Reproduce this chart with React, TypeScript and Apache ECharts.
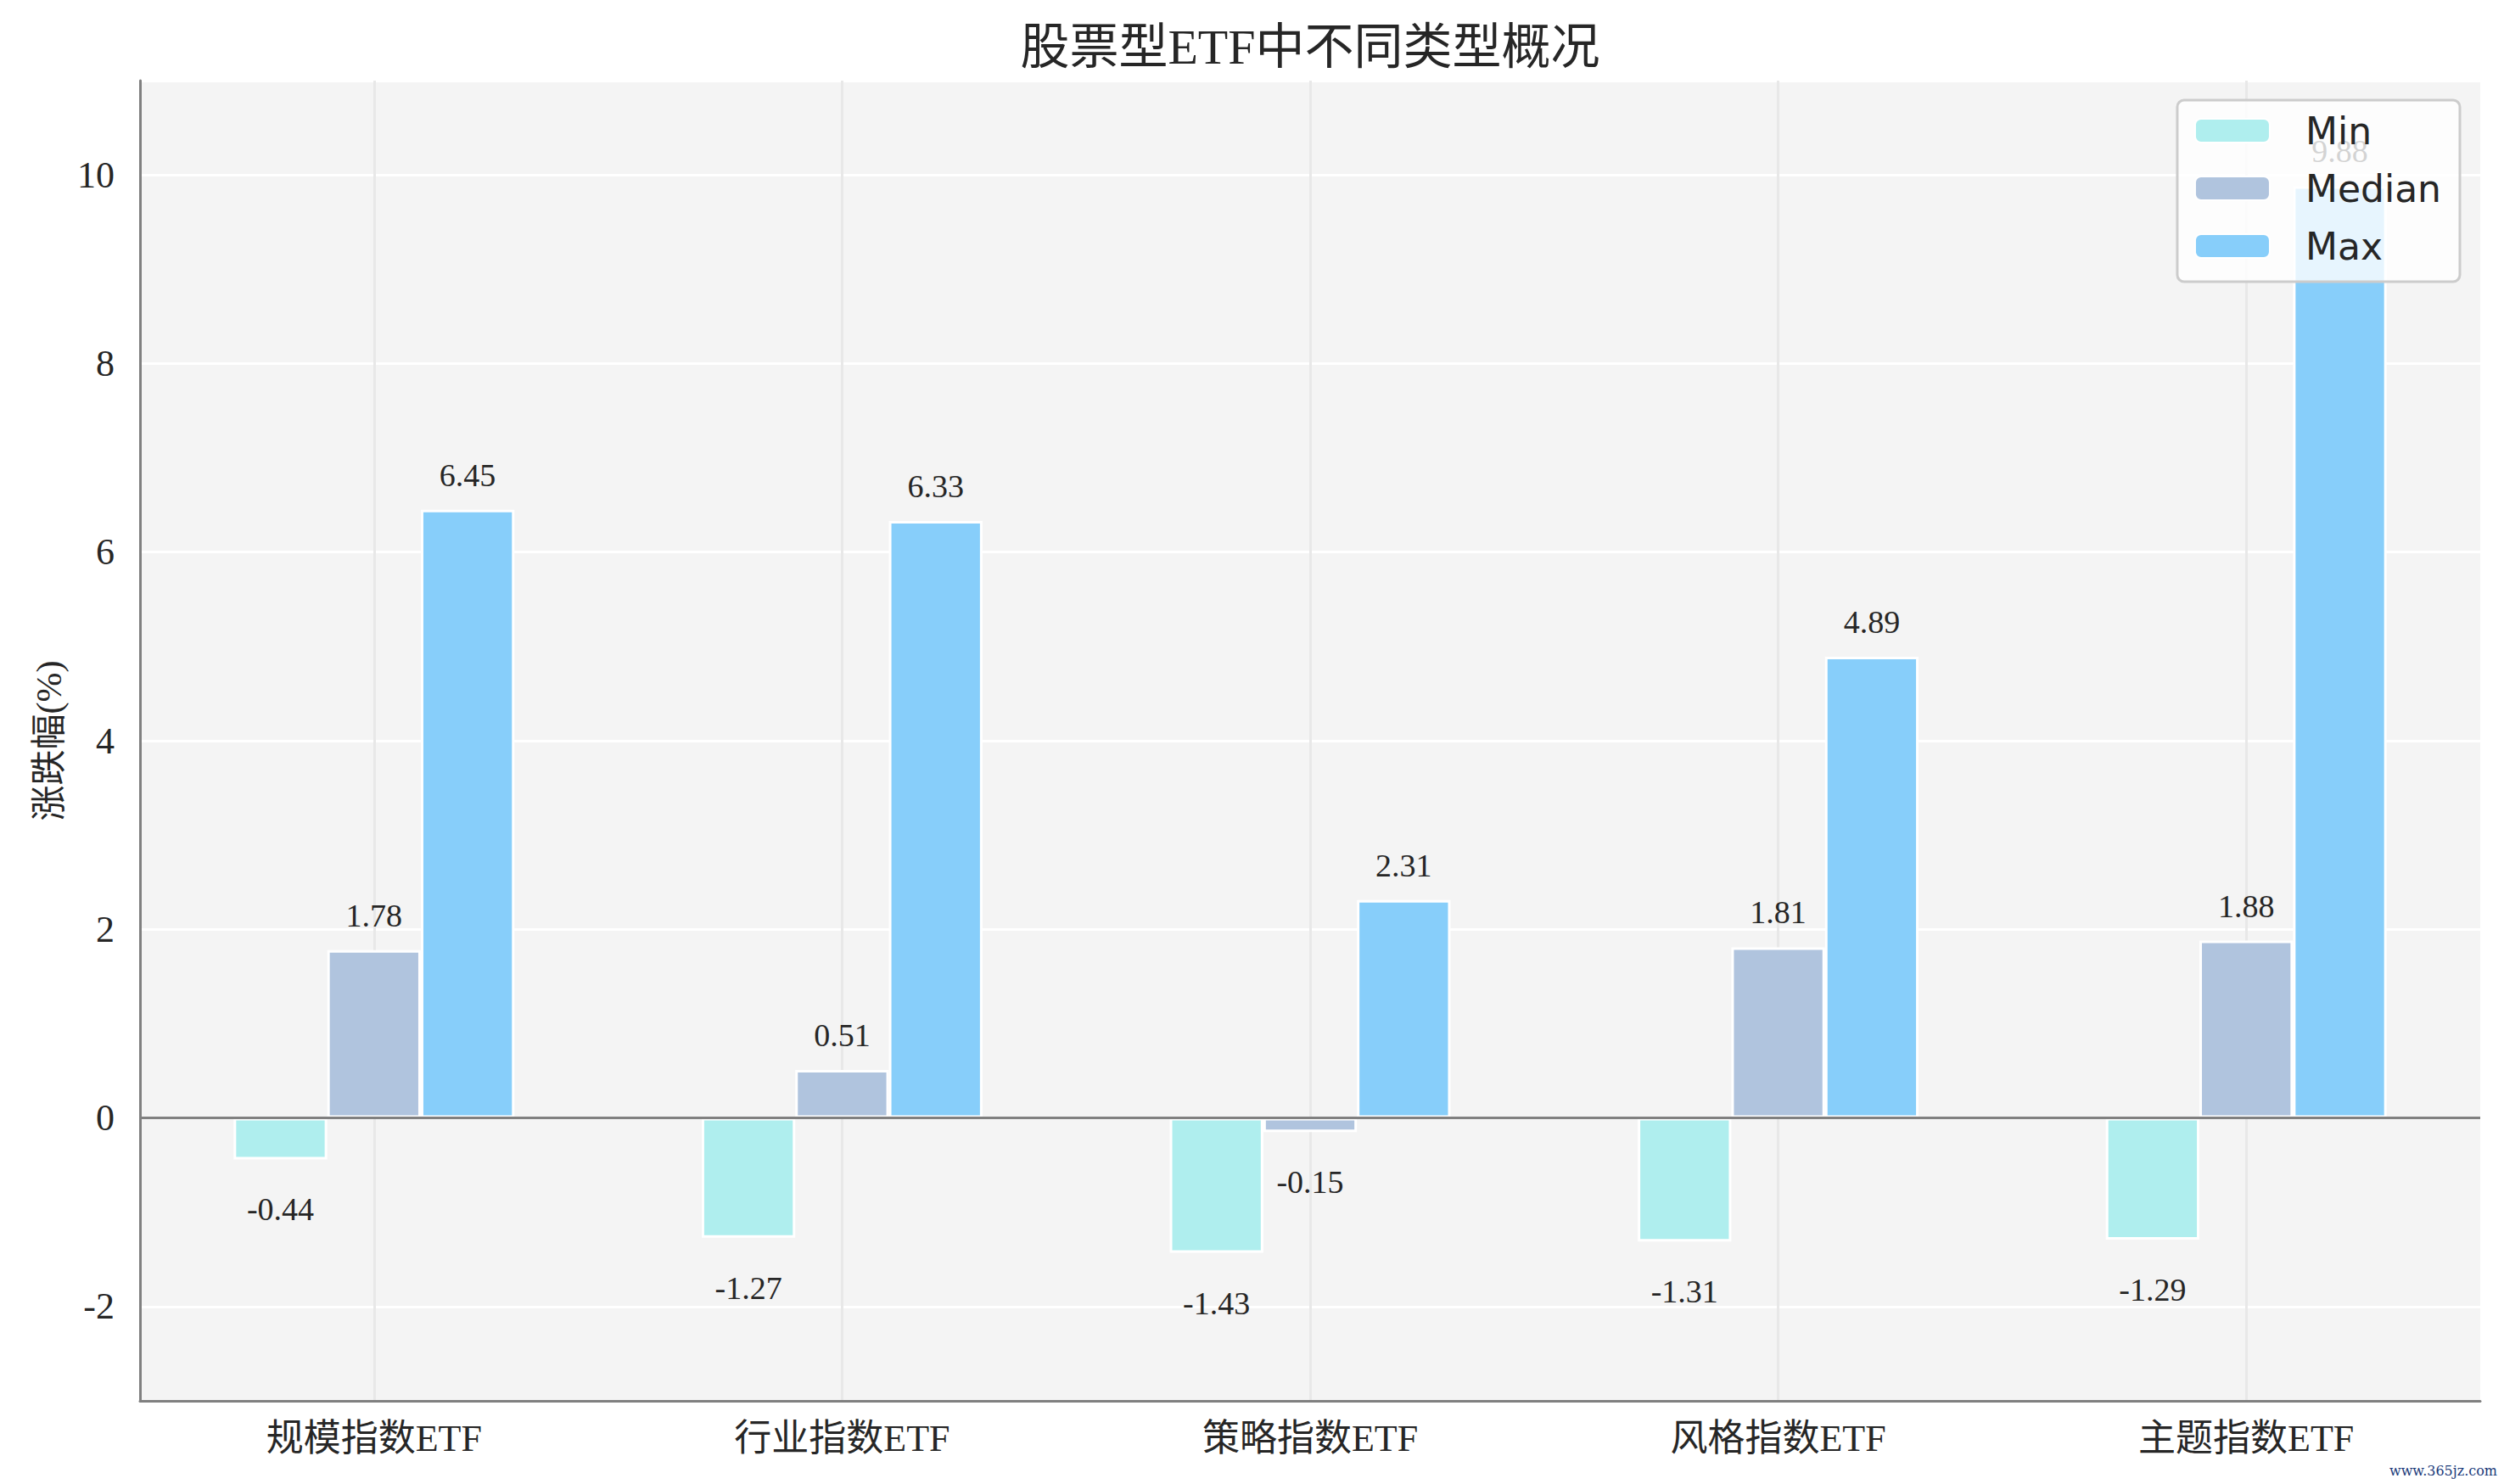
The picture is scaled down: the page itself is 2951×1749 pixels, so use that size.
import * as echarts from 'echarts';
import { useEffect, useRef } from 'react';

const CATEGORIES = ['规模指数ETF', '行业指数ETF', '策略指数ETF', '风格指数ETF', '主题指数ETF'];
const MIN_VALUES = [-0.44, -1.27, -1.43, -1.31, -1.29];
const MEDIAN_VALUES = [1.78, 0.51, -0.15, 1.81, 1.88];
const MAX_VALUES = [6.45, 6.33, 2.31, 4.89, 9.88];
const SERIES_NAMES = ['Min', 'Median', 'Max'];
const COLORS = ['#afeeee', '#b0c4de', '#87cefa'];

const TITLE = '股票型ETF中不同类型概况';
const Y_NAME = '涨跌幅(%)';
const WATERMARK = 'www.365jz.com';

const SERIF = '"Liberation Serif", "Noto Sans CJK SC", serif';
const INK = '#262626';

export default function App() {
  const chartRef = useRef<HTMLDivElement>(null);

  useEffect(() => {
    if (!chartRef.current) return;
    const chart = echarts.init(chartRef.current, undefined, { renderer: 'svg' });

    const makeSeries = (name: string, values: number[], color: string, extra: any = {}) => ({
      name,
      type: 'bar',
      barCategoryGap: '40%',
      barGap: '0%',
      itemStyle: { color, borderColor: '#ffffff', borderWidth: 3 },
      data: values.map(v => ({
        value: v,
        label: v < 0 ? { position: 'bottom', distance: 40 } : { position: 'top', distance: 22 },
      })),
      label: {
        show: true,
        color: INK,
        fontFamily: SERIF,
        fontSize: 38,
        formatter: (p: any) => p.value.toFixed(2),
      },
      ...extra,
    });

    chart.setOption({
      animation: false,
      backgroundColor: '#ffffff',
      grid: {
        left: 165,
        right: 28,
        top: 95,
        bottom: 98,
        show: true,
        backgroundColor: '#f4f4f4',
        borderWidth: 0,
      },
      legend: {
        data: SERIES_NAMES,
        orient: 'vertical',
        right: 52,
        top: 118,
        padding: [14, 22, 20, 20],
        itemWidth: 88,
        itemHeight: 28,
        itemGap: 24,
        backgroundColor: 'rgba(255,255,255,0.8)',
        borderColor: '#cccccc',
        borderWidth: 3,
        borderRadius: 8,
        textStyle: {
          fontFamily: '"DejaVu Sans", sans-serif',
          fontSize: 44,
          lineHeight: 44,
          color: INK,
          padding: [0, 0, 0, 37],
        },
      },
      xAxis: [
        {
          type: 'category',
          data: CATEGORIES,
          axisLine: { onZero: false, lineStyle: { color: '#808080', width: 3 } },
          axisTick: { show: false },
          splitLine: { show: false },
          axisLabel: { color: INK, fontFamily: SERIF, fontSize: 44, margin: 22 },
        },
        {
          type: 'category',
          boundaryGap: false,
          position: 'bottom',
          data: ['', '', '', '', '', '', '', '', '', '', ''],
          axisLine: { show: false },
          axisTick: { show: false },
          axisLabel: { show: false },
          splitLine: {
            show: true,
            interval: (i: number) => i % 2 === 1,
            lineStyle: { color: '#e8e8e8', width: 3 },
          },
        },
      ],
      yAxis: {
        type: 'value',
        min: -3,
        max: 11,
        splitNumber: 7,
        name: Y_NAME,
        nameLocation: 'middle',
        nameGap: 86,
        nameTextStyle: { color: INK, fontFamily: SERIF, fontSize: 42 },
        axisLine: { show: true, lineStyle: { color: '#808080', width: 3 } },
        axisTick: { show: false },
        axisLabel: {
          color: INK,
          fontFamily: SERIF,
          fontSize: 44,
          margin: 30,
          formatter: (v: number) => (v % 2 === 0 ? String(v) : ''),
        },
        splitLine: { show: true, lineStyle: { color: '#ffffff', width: 3 } },
      },
      series: [
        makeSeries(SERIES_NAMES[0], MIN_VALUES, COLORS[0], {
          markLine: {
            silent: true,
            symbol: 'none',
            label: { show: false },
            lineStyle: { color: '#808080', width: 3, type: 'solid' },
            data: [{ yAxis: 0 }],
          },
        }),
        makeSeries(SERIES_NAMES[1], MEDIAN_VALUES, COLORS[1]),
        makeSeries(SERIES_NAMES[2], MAX_VALUES, COLORS[2]),
      ],
      graphic: [
        {
          type: 'text',
          x: 1544,
          y: 55,
          style: {
            text: TITLE,
            fill: INK,
            font: `58px ${SERIF}`,
            align: 'center',
            verticalAlign: 'middle',
          },
        },
        {
          type: 'text',
          x: 2943,
          y: 1733,
          style: {
            text: WATERMARK,
            fill: '#1a3a7a',
            font: '16px "DejaVu Serif", serif',
            align: 'right',
            verticalAlign: 'middle',
          },
        },
      ],
    });

    return () => {
      chart.dispose();
    };
  }, []);

  return (
    <div
      ref={chartRef}
      style={{ position: 'absolute', left: 0, top: 0, width: 2951, height: 1749 }}
    />
  );
}
